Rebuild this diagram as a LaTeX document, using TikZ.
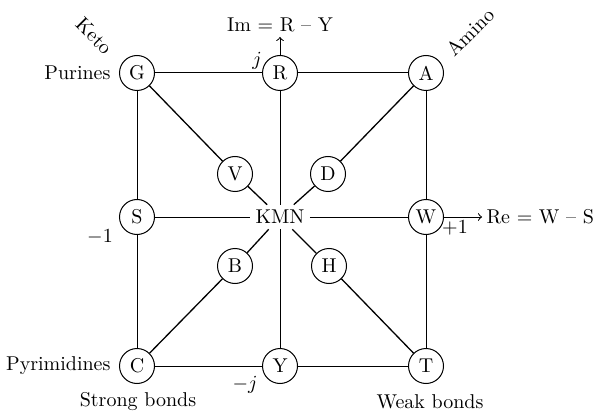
\documentclass[tikz,border=0pt]{standalone}
\usetikzlibrary{positioning}

\tikzset{
  base/.style={draw, circle, minimum size=17.5pt, inner sep=0pt},
  lbl/.style={inner sep=1pt},
  diag/.style={line width=0.65pt},
}

\begin{document}
\begin{tikzpicture}[x=0.5pt, y=-0.5pt, line width=0.5pt]
\useasboundingbox (0,0) rectangle (593,411);

% Corner and edge bases
\node[base] (G) at (137,73) {G};
\node[base] (R) at (280,73) {R};
\node[base] (A) at (426,73) {A};
\node[base] (S) at (137,217) {S};
\node[inner sep=2.5pt] (K) at (280,217) {KMN};
\node[base] (W) at (426,217) {W};
\node[base] (C) at (137,366) {C};
\node[base] (Y) at (280,366) {Y};
\node[base] (T) at (426,366) {T};

% Inner bases
\node[base] (V) at (235,174) {V};
\node[base] (D) at (328,174) {D};
\node[base] (B) at (235,266) {B};
\node[base] (H) at (329,266) {H};

% Square
\draw (G) -- (R) -- (A) -- (W) -- (T) -- (Y) -- (C) -- (S) -- (G);
\draw (S) -- (K) -- (W);
\draw (R) -- (K) -- (Y);

% Diagonals
\draw[diag] (G) -- (V) -- (K);
\draw[diag] (A) -- (D) -- (K);
\draw[diag] (C) -- (B) -- (K);
\draw[diag] (T) -- (H) -- (K);

% Axes
\coordinate (imtip) at (280,37);
\coordinate (retip) at (482,217);
\draw[->] (R) -- (imtip);
\draw[->] (W) -- (retip);
\node[lbl, anchor=south, inner sep=2.5pt] (imlab) at (imtip) {Im = R -- Y};
\node[lbl, anchor=west, inner sep=2pt] (relab) at (retip) {Re = W -- S};

% Unit labels
\node[lbl] (jp) at (257,61) {$j$};
\node[lbl] (jm) at (245,385) {$-j$};
\node[lbl] (onem) at (100,237) {$-1$};
\node[lbl] (onep) at (455,228) {$+1$};

% Group labels
\node[lbl, anchor=east] (pur) at (113,73) {Purines};
\node[lbl, anchor=east] (pyr) at (113,366) {Pyrimidines};
\node[lbl] (strong) at (138,402) {Strong bonds};
\node[lbl] (weak) at (430,402) {Weak bonds};
\node[lbl, rotate=-45] (keto) at (94,36) {Keto};
\node[lbl, rotate=45] (amino) at (470,32) {Amino};

\end{tikzpicture}
\end{document}
